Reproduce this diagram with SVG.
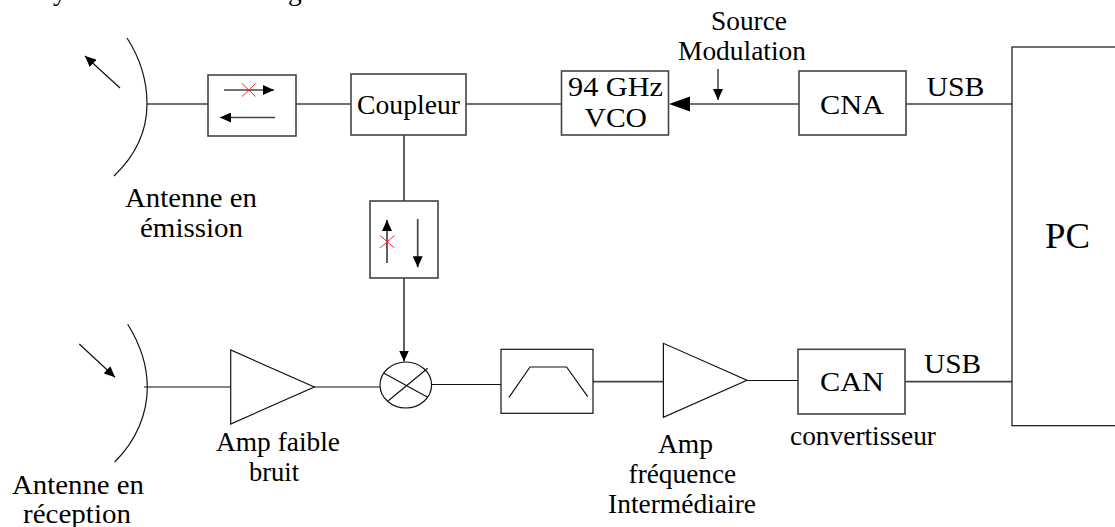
<svg xmlns="http://www.w3.org/2000/svg" width="1115" height="527" viewBox="0 0 1115 527">
<style>
.l{fill:none;stroke:#444;stroke-width:1.7}
.b{fill:#fff;stroke:#444;stroke-width:1.6}
.t{fill:none;stroke:#111;stroke-width:1.2}
.r{fill:none;stroke:#f22;stroke-width:1}
.h{fill:#000;stroke:none}
text{font-family:"Liberation Serif","Times New Roman",serif;font-size:27.5px;fill:#000}
</style>
<defs>
<marker id="a" markerUnits="userSpaceOnUse" markerWidth="12" markerHeight="10" refX="11" refY="5" orient="auto"><path d="M0 0L11 5L0 10Z" class="h"/></marker>
</defs>
<rect width="1115" height="527" fill="#fff"/>
<g id="connectors">
<path class="l" d="M147 104H208M296 104H351M466 104H561M906 104H1012M404 135V201"/>
<path class="l" d="M690 104H799"/>
<path class="h" d="M669 104L690 96.500V111.500Z"/>
<path class="l" d="M404 278V361.500" marker-end="url(#a)"/>
<path class="t" d="M718 69V100" marker-end="url(#a)"/>
<path class="t" d="M144 387H231M314 387H380M432 384.500H501"/>
<path class="l" d="M593 381.700H663M905 381.700H1012"/>
<path class="t" d="M747 380.500H798"/>
</g>
<g id="entete">
<text x="53" y="-0.500">y</text>
<text x="288" y="-0.500">g</text>
</g>
<g id="antenne-emission">
<path class="t" d="M127 38C140 58 147 80 147 104C147 130 136 155 114 176"/>
<path class="t" d="M120 88L85 56" marker-end="url(#a)"/>
<text x="125" y="206.700" textLength="132" lengthAdjust="spacingAndGlyphs">Antenne en</text>
<text x="140" y="237" textLength="103" lengthAdjust="spacingAndGlyphs">émission</text>
</g>
<g id="isolateur-1">
<rect class="b" x="208" y="75" width="88" height="61"/>
<path class="l" d="M224 90H274" marker-end="url(#a)"/>
<path class="l" d="M275 117.500H220" marker-end="url(#a)"/>
<path class="r" d="M242 83.500L255.500 96.500M255.500 83.500L242 96.500"/>
</g>
<g id="coupleur">
<rect class="b" x="351" y="74" width="115" height="61"/>
<text x="357" y="114" textLength="103" lengthAdjust="spacingAndGlyphs">Coupleur</text>
</g>
<g id="isolateur-2">
<rect class="b" x="370" y="201" width="68" height="77"/>
<path class="l" d="M387 263V220" marker-end="url(#a)"/>
<path class="l" d="M417.700 219V267.300" marker-end="url(#a)"/>
<path class="r" d="M380 235.500L394.500 248M394.500 235.500L380 248"/>
</g>
<g id="vco">
<rect class="b" x="561.500" y="71" width="107" height="64"/>
<text x="568" y="96" textLength="95" lengthAdjust="spacingAndGlyphs">94 GHz</text>
<text x="584.500" y="127" textLength="62.500" lengthAdjust="spacingAndGlyphs">VCO</text>
</g>
<g id="source-modulation">
<text x="711" y="30" textLength="76" lengthAdjust="spacingAndGlyphs">Source</text>
<text x="678" y="60" textLength="128" lengthAdjust="spacingAndGlyphs">Modulation</text>
</g>
<g id="cna">
<rect class="b" x="799" y="71" width="107" height="64"/>
<text x="820" y="114" textLength="64" lengthAdjust="spacingAndGlyphs">CNA</text>
</g>
<g id="usb-1"><text x="926.500" y="95.700" textLength="58" lengthAdjust="spacingAndGlyphs">USB</text></g>
<g id="pc">
<rect class="t" x="1012" y="47" width="120" height="378.700"/>
<text x="1045" y="248" textLength="45" lengthAdjust="spacingAndGlyphs" style="font-size:35px">PC</text>
</g>
<g id="antenne-reception">
<path class="t" d="M127.700 324.300C140 344 147.300 364 147.300 387.300C147.300 413 137 440 114.700 462"/>
<path class="t" d="M79.300 344L115 377.300" marker-end="url(#a)"/>
<text x="12" y="494" textLength="132" lengthAdjust="spacingAndGlyphs">Antenne en</text>
<text x="23" y="523" textLength="108" lengthAdjust="spacingAndGlyphs">réception</text>
</g>
<g id="amp-faible-bruit">
<path class="t" d="M230.700 350V424L314.300 387Z"/>
<text x="216" y="450.700" textLength="124" lengthAdjust="spacingAndGlyphs">Amp faible</text>
<text x="249" y="480.700" textLength="50" lengthAdjust="spacingAndGlyphs">bruit</text>
</g>
<g id="melangeur">
<ellipse class="t" cx="405.800" cy="385" rx="25.800" ry="23"/>
<path class="t" d="M384 373.300L427.700 397.300M388.300 400.700L427.700 368.300"/>
</g>
<g id="filtre">
<rect class="t" x="501" y="349.300" width="92" height="64"/>
<path class="t" d="M509 397.300L530 367H566.600L587.700 396.700"/>
</g>
<g id="amp-fi">
<path class="t" d="M663.400 343.300V417.300L747 380.300Z"/>
<text x="658" y="453" textLength="55" lengthAdjust="spacingAndGlyphs">Amp</text>
<text x="628.600" y="483" textLength="107.500" lengthAdjust="spacingAndGlyphs">fréquence</text>
<text x="608" y="513" textLength="148" lengthAdjust="spacingAndGlyphs">Intermédiaire</text>
</g>
<g id="can">
<rect class="b" x="798" y="349.300" width="107" height="64.700"/>
<text x="820" y="390.700" textLength="64" lengthAdjust="spacingAndGlyphs">CAN</text>
<text x="790" y="445" textLength="146" lengthAdjust="spacingAndGlyphs">convertisseur</text>
</g>
<g id="usb-2"><text x="924" y="372.700" textLength="57" lengthAdjust="spacingAndGlyphs">USB</text></g>
</svg>
